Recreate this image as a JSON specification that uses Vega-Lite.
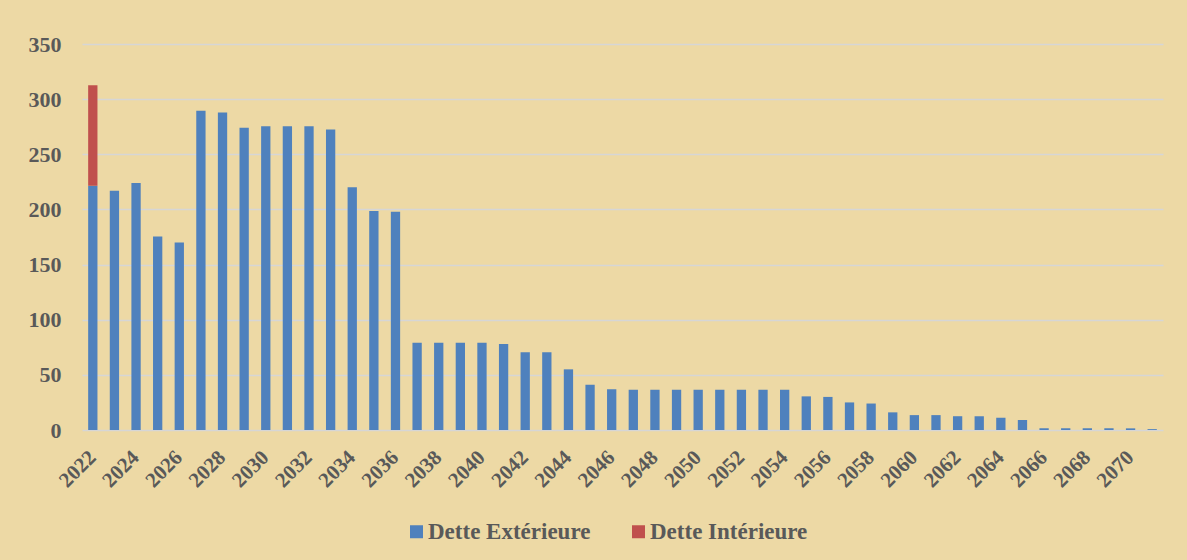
{
  "$schema": "https://vega.github.io/schema/vega-lite/v6.json",
  "autosize": {"type": "none"},
  "width": 1081,
  "height": 386,
  "padding": {"left": 82, "top": 44, "right": 24, "bottom": 130},
  "background": "#edd9a5",
  "data": {
    "values": [
      {"year": 2022, "type": "Dette Extérieure", "value": 221.5},
      {"year": 2022, "type": "Dette Intérieure", "value": 91},
      {"year": 2023, "type": "Dette Extérieure", "value": 217},
      {"year": 2024, "type": "Dette Extérieure", "value": 224},
      {"year": 2025, "type": "Dette Extérieure", "value": 175.5},
      {"year": 2026, "type": "Dette Extérieure", "value": 170},
      {"year": 2027, "type": "Dette Extérieure", "value": 289.5},
      {"year": 2028, "type": "Dette Extérieure", "value": 288},
      {"year": 2029, "type": "Dette Extérieure", "value": 274},
      {"year": 2030, "type": "Dette Extérieure", "value": 275.5},
      {"year": 2031, "type": "Dette Extérieure", "value": 275.5},
      {"year": 2032, "type": "Dette Extérieure", "value": 275.5},
      {"year": 2033, "type": "Dette Extérieure", "value": 272.5},
      {"year": 2034, "type": "Dette Extérieure", "value": 220},
      {"year": 2035, "type": "Dette Extérieure", "value": 198.5},
      {"year": 2036, "type": "Dette Extérieure", "value": 198},
      {"year": 2037, "type": "Dette Extérieure", "value": 79},
      {"year": 2038, "type": "Dette Extérieure", "value": 79},
      {"year": 2039, "type": "Dette Extérieure", "value": 79},
      {"year": 2040, "type": "Dette Extérieure", "value": 79},
      {"year": 2041, "type": "Dette Extérieure", "value": 78},
      {"year": 2042, "type": "Dette Extérieure", "value": 70.5},
      {"year": 2043, "type": "Dette Extérieure", "value": 70.5},
      {"year": 2044, "type": "Dette Extérieure", "value": 55},
      {"year": 2045, "type": "Dette Extérieure", "value": 41},
      {"year": 2046, "type": "Dette Extérieure", "value": 37},
      {"year": 2047, "type": "Dette Extérieure", "value": 36.5},
      {"year": 2048, "type": "Dette Extérieure", "value": 36.5},
      {"year": 2049, "type": "Dette Extérieure", "value": 36.5},
      {"year": 2050, "type": "Dette Extérieure", "value": 36.5},
      {"year": 2051, "type": "Dette Extérieure", "value": 36.5},
      {"year": 2052, "type": "Dette Extérieure", "value": 36.5},
      {"year": 2053, "type": "Dette Extérieure", "value": 36.5},
      {"year": 2054, "type": "Dette Extérieure", "value": 36.5},
      {"year": 2055, "type": "Dette Extérieure", "value": 30.5},
      {"year": 2056, "type": "Dette Extérieure", "value": 30},
      {"year": 2057, "type": "Dette Extérieure", "value": 25},
      {"year": 2058, "type": "Dette Extérieure", "value": 24},
      {"year": 2059, "type": "Dette Extérieure", "value": 16},
      {"year": 2060, "type": "Dette Extérieure", "value": 13.5},
      {"year": 2061, "type": "Dette Extérieure", "value": 13.5},
      {"year": 2062, "type": "Dette Extérieure", "value": 12.5},
      {"year": 2063, "type": "Dette Extérieure", "value": 12.5},
      {"year": 2064, "type": "Dette Extérieure", "value": 11},
      {"year": 2065, "type": "Dette Extérieure", "value": 9},
      {"year": 2066, "type": "Dette Extérieure", "value": 1.5},
      {"year": 2067, "type": "Dette Extérieure", "value": 1.5},
      {"year": 2068, "type": "Dette Extérieure", "value": 1.5},
      {"year": 2069, "type": "Dette Extérieure", "value": 1.5},
      {"year": 2070, "type": "Dette Extérieure", "value": 1.5},
      {"year": 2071, "type": "Dette Extérieure", "value": 0.8}
    ]
  },
  "mark": {"type": "bar"},
  "encoding": {
    "x": {
      "field": "year",
      "type": "ordinal",
      "scale": {"paddingInner": 0.57, "paddingOuter": 0.285},
      "axis": {
        "title": null,
        "values": [2022, 2024, 2026, 2028, 2030, 2032, 2034, 2036, 2038, 2040, 2042, 2044, 2046, 2048, 2050, 2052, 2054, 2056, 2058, 2060, 2062, 2064, 2066, 2068, 2070],
        "labelAngle": -45,
        "labelAlign": "right",
        "labelBaseline": "middle",
        "labelPadding": 24,
        "ticks": false,
        "domain": false,
        "labelFont": "Liberation Serif",
        "labelFontWeight": "bold",
        "labelFontSize": 21,
        "labelColor": "#595959"
      }
    },
    "y": {
      "field": "value",
      "type": "quantitative",
      "stack": "zero",
      "scale": {"domain": [0, 350], "nice": false},
      "axis": {
        "title": null,
        "values": [0, 50, 100, 150, 200, 250, 300, 350],
        "ticks": false,
        "domain": false,
        "grid": true,
        "gridColor": "#d6d6d6",
        "gridWidth": 1.5,
        "labelPadding": 21,
        "labelFont": "Liberation Serif",
        "labelFontWeight": "bold",
        "labelFontSize": 22,
        "labelColor": "#595959"
      }
    },
    "order": {"field": "type", "type": "nominal", "sort": "ascending"},
    "color": {
      "field": "type",
      "type": "nominal",
      "scale": {"domain": ["Dette Extérieure", "Dette Intérieure"], "range": ["#4f81bd", "#c0504d"]},
      "legend": {
        "title": null,
        "orient": "none",
        "direction": "horizontal",
        "legendX": 323,
        "legendY": 476,
        "symbolType": "square",
        "symbolSize": 169,
        "symbolStrokeWidth": 0,
        "labelFont": "Liberation Serif",
        "labelFontWeight": "bold",
        "labelFontSize": 23,
        "labelColor": "#595959",
        "labelLimit": 400,
        "labelOffset": 0,
        "columnPadding": 36
      }
    }
  },
  "config": {
    "view": {"stroke": null}
  }
}
